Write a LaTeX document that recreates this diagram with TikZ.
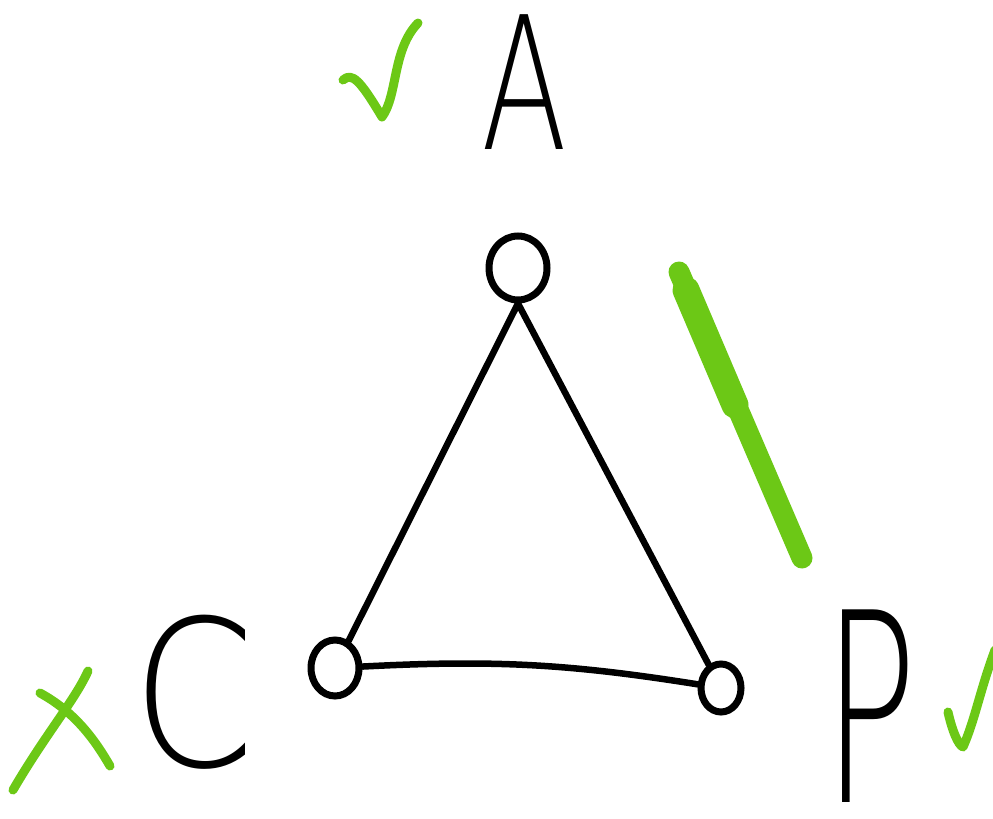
\documentclass[tikz,border=0pt]{standalone}
\usepackage{fontspec}
\usetikzlibrary{shapes.geometric}
\newfontfamily\handfont{DejaVu Sans ExtraLight}
\definecolor{markgreen}{RGB}{108,200,22}
\begin{document}
\begin{tikzpicture}[x=1pt,y=-1pt,
  vertex/.style={draw=black,line width=7pt,ellipse,inner sep=0pt},
  edge/.style={draw=black,line width=6.5pt,line cap=round},
  letter/.style={inner sep=0pt,text=black},
  greenmark/.style={draw=markgreen,line width=9pt,line cap=round,line join=round}]
\useasboundingbox (0,0) rectangle (993,819);
% vertices
\node[vertex,minimum width=58pt,minimum height=64pt] (top) at (518,268) {};
\node[vertex,minimum width=48pt,minimum height=56pt] (bl) at (335,668) {};
\node[vertex,minimum width=40pt,minimum height=48pt] (br) at (721,688) {};
% edges
\draw[edge] (top.south) -- (bl);
\draw[edge] (top.south) -- (br);
\draw[edge] (bl) to[bend left=6] (br);
% letters
\node[letter] (la) at (525,82) {\fontsize{185}{190}\handfont\scalebox{0.68}[1]{A}};
\node[letter] (lc) at (194,692) {\fontsize{204}{210}\handfont\scalebox{0.86}[1]{C}};
\node[letter] (lp) at (870,706) {\fontsize{236}{240}\handfont\scalebox{0.66}[1.12]{P}};
% green marks
\draw[greenmark] (343,80) .. controls (352,72) and (360,80) .. (382,117)
  .. controls (398,95) and (392,50) .. (418,23);
\draw[greenmark] (948,712) .. controls (952,730) and (958,745) .. (963,747)
  .. controls (975,720) and (980,690) .. (995,650);
\draw[greenmark] (13,790) .. controls (45,735) and (75,700) .. (88,671);
\draw[greenmark] (40,693) .. controls (75,712) and (95,740) .. (110,766);
\draw[draw=markgreen,line width=21pt,line cap=round] (679,272) -- (802,558);
\draw[draw=markgreen,line width=27pt,line cap=round] (686,290) -- (735,405);
\end{tikzpicture}
\end{document}
